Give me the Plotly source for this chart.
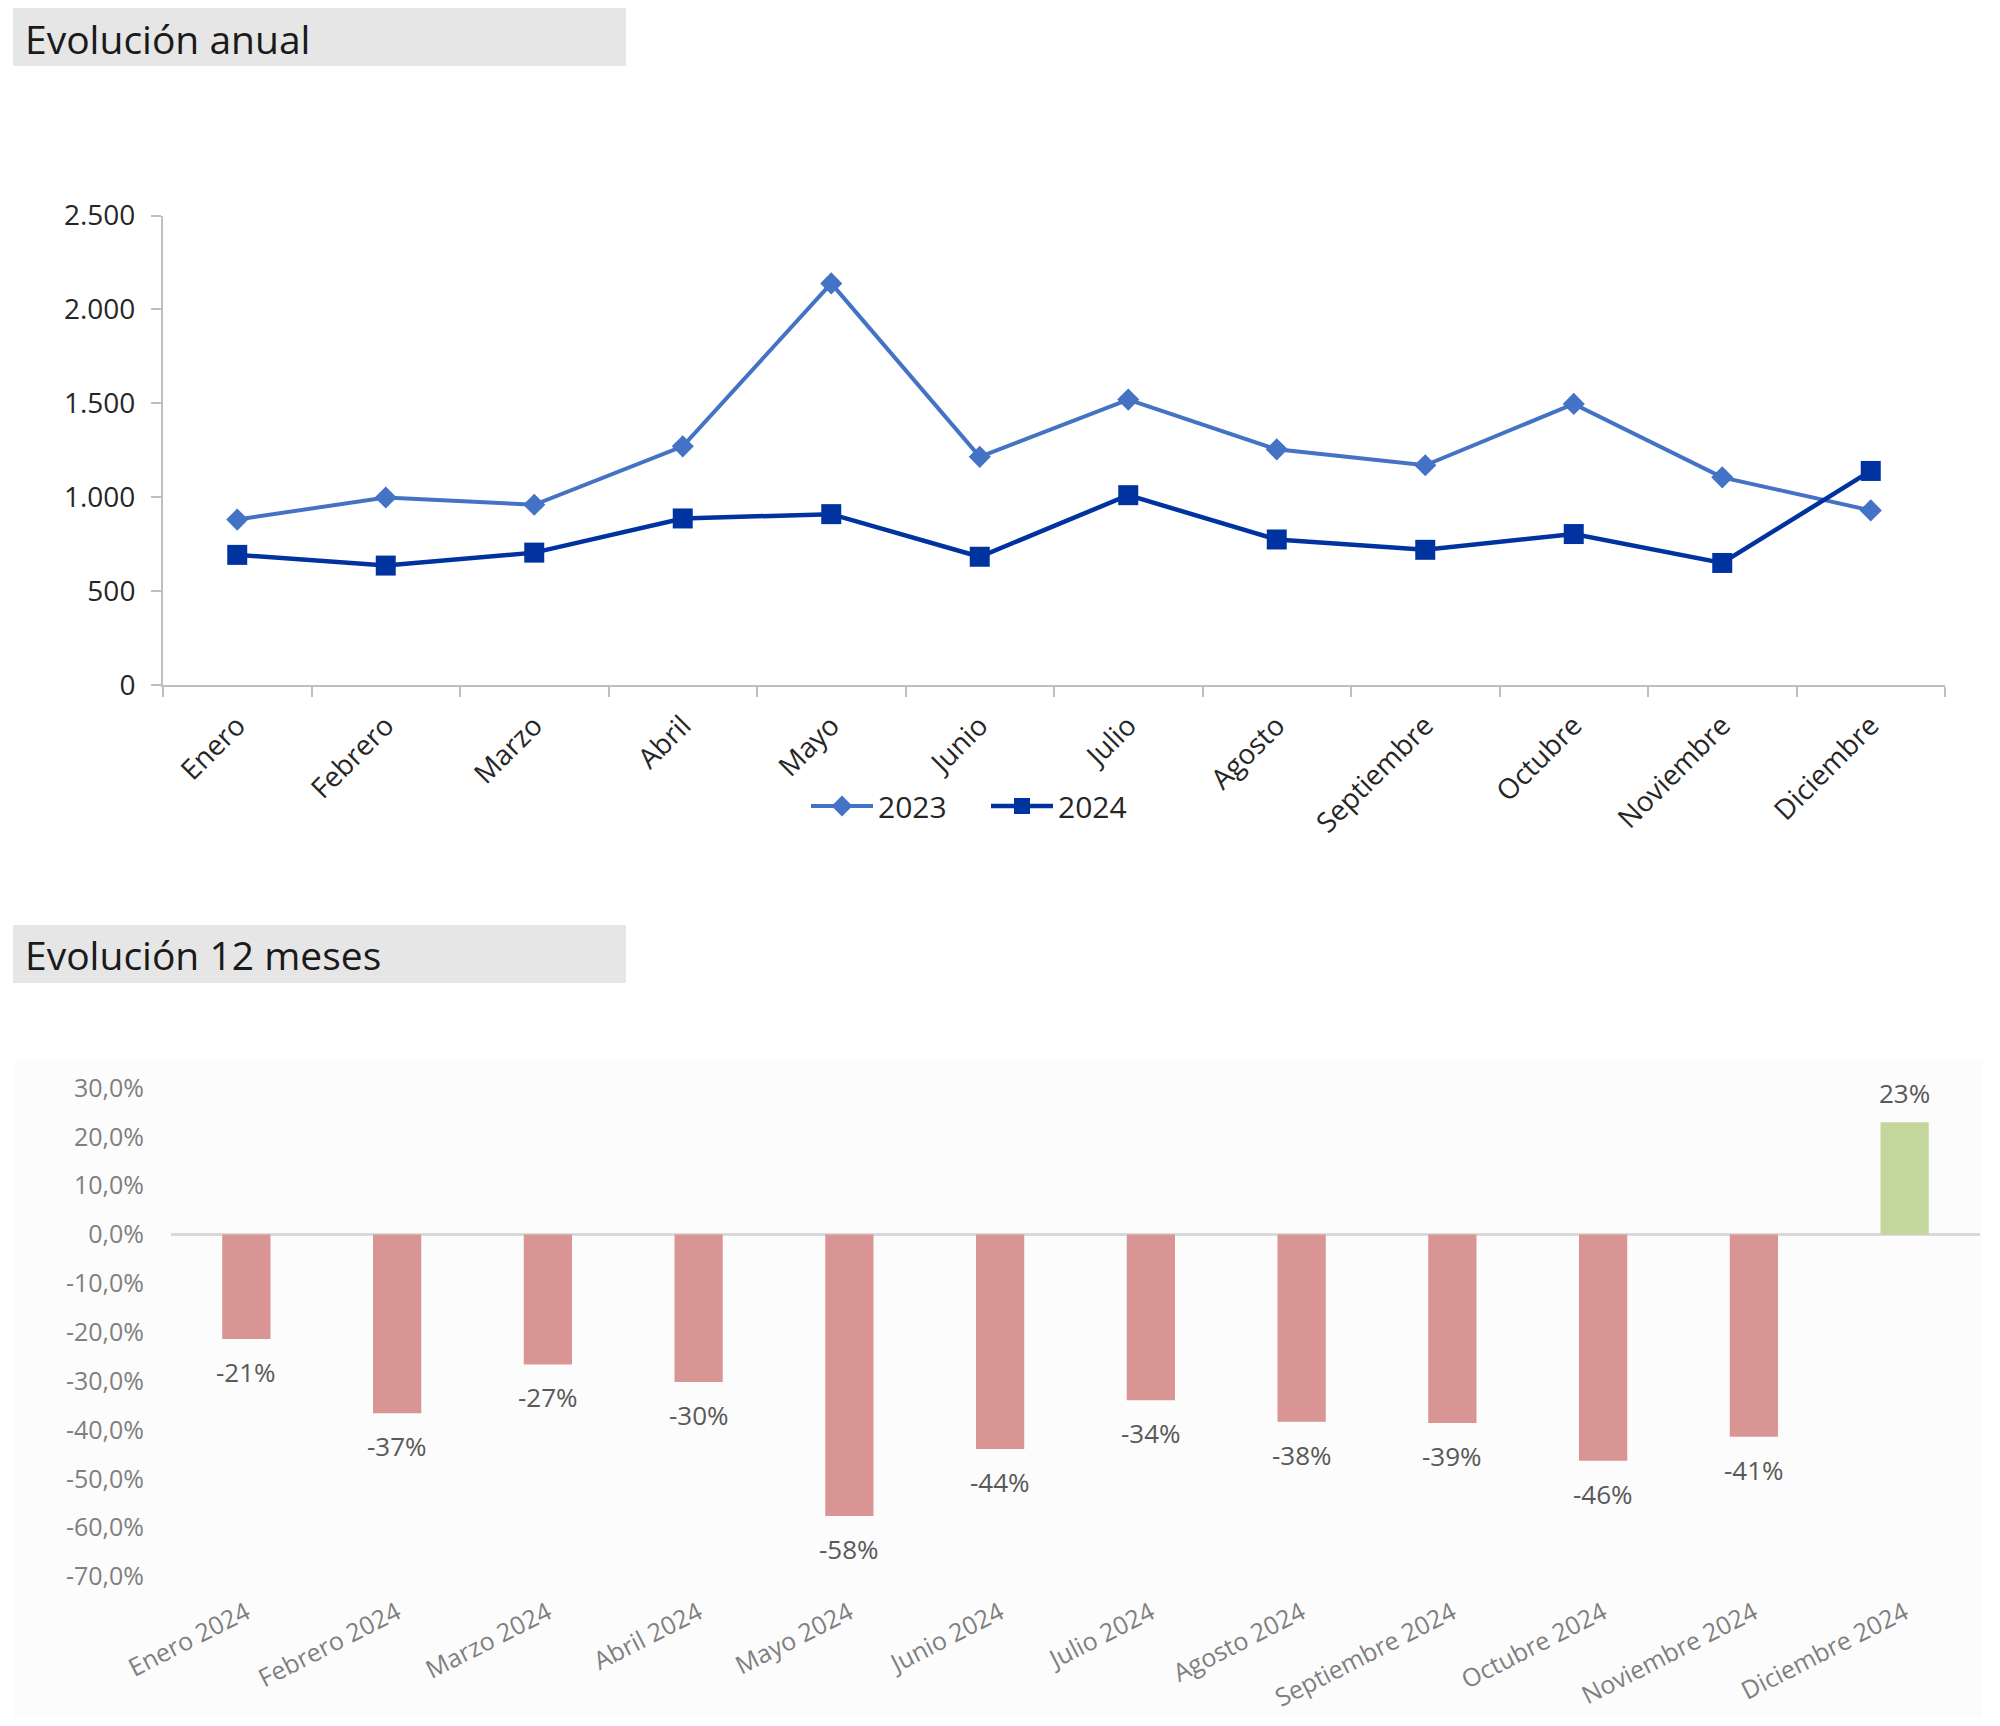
import plotly.graph_objects as go

# ---------------- data ----------------
months = ["Enero", "Febrero", "Marzo", "Abril", "Mayo", "Junio", "Julio",
          "Agosto", "Septiembre", "Octubre", "Noviembre", "Diciembre"]
values_2023 = [881, 999, 960, 1271, 2139, 1215, 1520, 1255, 1170, 1497, 1106, 930]
values_2024 = [693, 636, 705, 887, 910, 683, 1011, 775, 720, 804, 650, 1140]

y1_tickvals = [0, 500, 1000, 1500, 2000, 2500]
y1_ticktext = ["0", "500", "1.000", "1.500", "2.000", "2.500"]

months_12 = ["Enero 2024", "Febrero 2024", "Marzo 2024", "Abril 2024", "Mayo 2024",
             "Junio 2024", "Julio 2024", "Agosto 2024", "Septiembre 2024",
             "Octubre 2024", "Noviembre 2024", "Diciembre 2024"]
pct_change = [-21.4, -36.6, -26.6, -30.2, -57.6, -43.9, -33.9, -38.3, -38.6, -46.3, -41.4, 23.0]

y2_tickvals = [30, 20, 10, 0, -10, -20, -30, -40, -50, -60, -70]
y2_ticktext = ["30,0%", "20,0%", "10,0%", "0,0%", "-10,0%", "-20,0%", "-30,0%",
               "-40,0%", "-50,0%", "-60,0%", "-70,0%"]

FONT = "Open Sans"
C2023 = "#4472C4"
C2024 = "#0033A0"
RED = "#D99594"
GREEN = "#C3D69B"

W, H = 2000, 1726
OFF = 8  # page body margin


def px(x):
    return (x - OFF) / W


def py(y):
    return 1 - (y - OFF) / H


fig = go.Figure()

fig.add_trace(go.Scatter(
    x=months, y=values_2023, name="2023", mode="lines+markers",
    line=dict(color=C2023, width=4),
    marker=dict(symbol="diamond", size=17, color=C2023),
    xaxis="x", yaxis="y"))
fig.add_trace(go.Scatter(
    x=months, y=values_2024, name="2024", mode="lines+markers",
    line=dict(color=C2024, width=4.5),
    marker=dict(symbol="square", size=20, color=C2024),
    xaxis="x", yaxis="y"))

bar_colors = [GREEN if v >= 0 else RED for v in pct_change]
fig.add_trace(go.Bar(
    x=months_12, y=pct_change, marker=dict(color=bar_colors, line=dict(width=0)),
    width=0.32, showlegend=False, xaxis="x2", yaxis="y2", hoverinfo="x+y"))

annotations = []
for m, v in zip(months_12, pct_change):
    annotations.append(dict(
        x=m, y=v, xref="x2", yref="y2", text=f"{v:.0f}%",
        showarrow=False, yanchor="middle", xanchor="center",
        yshift=-33 if v < 0 else 29,
        font=dict(family=FONT, size=26, color="#595959")))

# section titles
annotations.append(dict(x=px(23), y=py(38), xref="paper", yref="paper",
                        text="Evolución anual", showarrow=False, xanchor="left",
                        yanchor="middle", font=dict(family=FONT, size=39, color="#1a1a1a")))
annotations.append(dict(x=px(23), y=py(954), xref="paper", yref="paper",
                        text="Evolución 12 meses", showarrow=False, xanchor="left",
                        yanchor="middle", font=dict(family=FONT, size=39, color="#1a1a1a")))

shapes = [
    dict(type="rect", xref="paper", yref="paper", x0=px(13), x1=px(626),
         y0=py(66), y1=py(8), fillcolor="#e7e6e6", line=dict(width=0), layer="below"),
    dict(type="rect", xref="paper", yref="paper", x0=px(13), x1=px(626),
         y0=py(983), y1=py(925), fillcolor="#e7e6e6", line=dict(width=0), layer="below"),
    dict(type="rect", xref="paper", yref="paper", x0=px(14), x1=px(1982),
         y0=py(1718), y1=py(1060), fillcolor="#fcfcfc", line=dict(width=0), layer="below"),
]

fig.update_layout(
    template="none",
    width=W, height=H, autosize=False,
    margin=dict(l=0, r=0, t=0, b=0, pad=0),
    paper_bgcolor="white", plot_bgcolor="rgba(0,0,0,0)",
    font=dict(family=FONT, size=28, color="#262626"),
    showlegend=True,
    legend=dict(orientation="h", x=px(986), xanchor="center", y=py(806),
                yanchor="middle", font=dict(family=FONT, size=30, color="#262626"),
                bgcolor="rgba(0,0,0,0)", itemwidth=62, entrywidth=103,
                entrywidthmode="pixels"),
    xaxis=dict(domain=[px(163), px(1945)], anchor="y", type="category",
               automargin=False,
               range=[-0.5, 11.5], showline=True, linecolor="#bfbfbf", linewidth=2,
               ticks="outside", tickson="boundaries", ticklen=10, tickcolor="#bfbfbf",
               tickwidth=2, tickangle=-45, showgrid=False, zeroline=False,
               ticklabelstandoff=11,
               tickfont=dict(family=FONT, size=28, color="#262626")),
    yaxis=dict(domain=[py(685), py(215.6)], anchor="x", range=[0, 2500],
               automargin=False,
               tickvals=y1_tickvals, ticktext=y1_ticktext, showline=True,
               linecolor="#bfbfbf", linewidth=2, ticks="outside", ticklen=10,
               tickcolor="#bfbfbf", tickwidth=2, showgrid=False, zeroline=False,
               ticklabelstandoff=10,
               tickfont=dict(family=FONT, size=28, color="#262626")),
    xaxis2=dict(domain=[px(171), px(1980)], anchor="y2", type="category",
                automargin=False,
                range=[-0.5, 11.5], showline=False, ticks="", tickangle=-27,
                showgrid=False, zeroline=False, ticklabelstandoff=16,
                tickfont=dict(family=FONT, size=25, color="#7f7f7f")),
    yaxis2=dict(domain=[py(1576.5), py(1088)], anchor="x2", range=[-70, 30],
                automargin=False,
                tickvals=y2_tickvals, ticktext=y2_ticktext, showline=False, ticks="",
                showgrid=False, zeroline=True, zerolinecolor="#d9d9d9", zerolinewidth=3,
                ticklabelstandoff=26,
                tickfont=dict(family=FONT, size=25, color="#808080")),
    annotations=annotations,
    shapes=shapes,
)

fig.write_html("out.html")
